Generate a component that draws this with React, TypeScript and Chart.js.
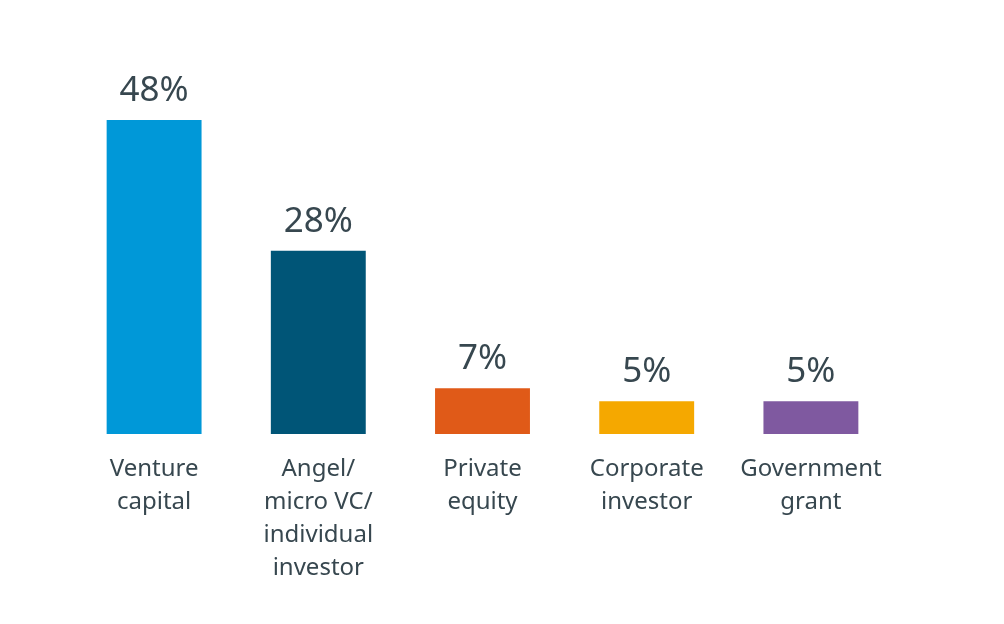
import { useEffect, useRef } from "react";
import { Chart, registerables } from "chart.js";

Chart.register(...registerables);

const categories = [
  ["Venture", "capital"],
  ["Angel/", "micro VC/", "individual", "investor"],
  ["Private", "equity"],
  ["Corporate", "investor"],
  ["Government", "grant"],
];
const shares = [48, 28, 7, 5, 5];
const barColors = ["#0098d8", "#005577", "#e05a18", "#f5a800", "#7f59a0"];

const textColor = "#37474f";
const fontFamily = "'Noto Sans', sans-serif";

const valueLabels = {
  id: "valueLabels",
  afterDatasetsDraw(chart: any) {
    const ctx = chart.ctx;
    const meta = chart.getDatasetMeta(0);
    ctx.save();
    ctx.fillStyle = textColor;
    ctx.font = `35px ${fontFamily}`;
    ctx.textAlign = "center";
    ctx.textBaseline = "alphabetic";
    meta.data.forEach((bar: any, i: number) => {
      ctx.fillText(shares[i] + "%", bar.x, bar.y - 19);
    });
    ctx.restore();
  },
};

export default function App() {
  const chartRef = useRef<HTMLCanvasElement>(null);
  const chartInstance = useRef<Chart | null>(null);

  useEffect(() => {
    if (!chartRef.current) return;
    const ctx = chartRef.current.getContext("2d");
    if (!ctx) return;

    if (chartInstance.current) {
      chartInstance.current.destroy();
    }

    chartInstance.current = new Chart(ctx, {
      type: "bar",
      data: {
        labels: categories,
        datasets: [
          {
            data: shares,
            backgroundColor: barColors,
            borderWidth: 0,
            barPercentage: 1,
            categoryPercentage: 0.578,
          },
        ],
      },
      options: {
        animation: false,
        responsive: true,
        maintainAspectRatio: false,
        layout: {
          padding: { top: 41.5, left: 72, right: 111, bottom: 0 },
        },
        plugins: {
          legend: { display: false },
          tooltip: { enabled: false },
        },
        scales: {
          x: {
            grid: { display: false },
            border: { display: false },
            afterFit: (scale: any) => {
              scale.height = 190;
            },
            ticks: {
              color: textColor,
              padding: 11,
              maxRotation: 0,
              autoSkip: false,
              font: { family: fontFamily, size: 24, lineHeight: 1.375 },
            },
          },
          y: {
            display: false,
            min: 0,
            max: 60,
          },
        },
      },
      plugins: [valueLabels],
    });

    return () => {
      if (chartInstance.current) {
        chartInstance.current.destroy();
        chartInstance.current = null;
      }
    };
  }, []);

  return (
    <div
      style={{
        position: "fixed",
        left: 0,
        top: 0,
        width: 1004,
        height: 624,
        background: "#ffffff",
      }}
    >
      <canvas ref={chartRef}></canvas>
    </div>
  );
}
